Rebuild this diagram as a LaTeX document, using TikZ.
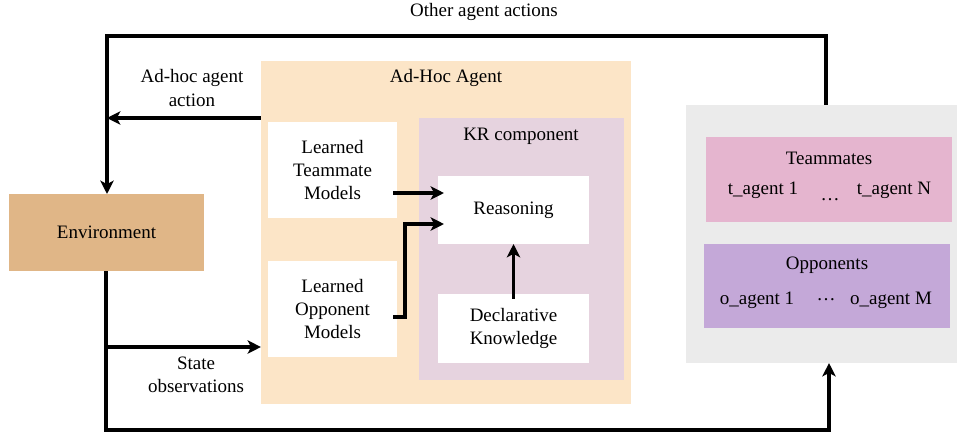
\documentclass[tikz,border=0pt]{standalone}
\usepackage{fontspec}
\setmainfont{Liberation Serif}
\usetikzlibrary{arrows.meta}

\definecolor{envcol}{HTML}{E0B687}
\definecolor{agentcol}{HTML}{FCE5C7}
\definecolor{krcol}{HTML}{E6D3DF}
\definecolor{greycol}{HTML}{EBEBEB}
\definecolor{teamcol}{HTML}{E5B5CF}
\definecolor{oppcol}{HTML}{C4A8D8}

\tikzset{
  every node/.style={font=\fontsize{13.5}{16.7}\selectfont, inner sep=0pt, outer sep=0pt},
  panel/.style={rectangle, fill=#1, align=center},
  box/.style={rectangle, fill=white, align=center, minimum width=#1},
  arr/.style={-{Stealth[length=9.5pt,width=9.5pt,inset=2.5pt]}, line width=2.2pt},
}

\begin{document}
\begin{tikzpicture}[x=0.025cm, y=-0.025cm]
		\useasboundingbox (0,0) rectangle (958,434);
		% containers
		\node[panel=agentcol, minimum width=9.25cm, minimum height=8.575cm] (agent) at (446,232.5) {};
		\node (agenttitle) at (446,78) {Ad-Hoc Agent};
		\node[panel=krcol, minimum width=5.125cm, minimum height=6.55cm] (kr) at (521.5,249) {};
		\node (krtitle) at (521,136) {KR component};
		\node[panel=greycol, minimum width=6.775cm, minimum height=6.45cm] (grey) at (821.5,234) {};
		\node[panel=teamcol, minimum width=6.15cm, minimum height=2.125cm] (team) at (829,179.5) {};
		\node (teamtitle) at (829,158) {Teammates};
		\node[panel=oppcol, minimum width=6.15cm, minimum height=2.1cm] (opp) at (827,286) {};
		\node (opptitle) at (827,265) {Opponents};
		% agents
		\node (tfirst) at (763,190) {t\_agent 1};
		\node (tdots) at (830,200) {\dots};
		\node (tlast) at (894,190) {t\_agent N};
		\node (ofirst) at (757,300) {o\_agent 1};
		\node (odots) at (826,300) {\dots};
		\node (olast) at (891,300) {o\_agent M};
		% boxes
		\node[panel=envcol, minimum width=4.875cm, minimum height=1.925cm] (env) at (106.5,232.5) {Environment};
		\node[box=3.225cm, minimum height=2.4cm] (tmm) at (332.5,170) {Learned\\Teammate\\Models};
		\node[box=3.225cm, minimum height=2.4cm] (opm) at (332.5,309) {Learned\\Opponent\\Models};
		\node[box=3.775cm, minimum height=1.7cm] (reason) at (513.5,210) {Reasoning};
		\node[box=3.775cm, minimum height=1.725cm] (decl) at (513.5,328.5) {Declarative\\Knowledge};
		% labels
		\node (otherlbl) at (484,12) {Other agent actions};
		\node[align=center] (actlbl) at (192,88) {Ad-hoc agent\\action};
		\node[align=center] (obslbl) at (196,375) {State\\observations};
		% connectors
		\coordinate (tl) at (107,36);
		\coordinate (tr) at (826,36);
		\coordinate (act) at (107,118);
		\coordinate (obs) at (106,347);
		\coordinate (br) at (829,430);
		\coordinate (tmy) at (0,193);
		\coordinate (opy) at (0,317);
		\coordinate (bend) at (405,224);
		\draw[arr] (grey.north -| tr) |- (tl) -- (env.north -| tl);
		\draw[arr] (agent.west |- act) -- (act);
		\draw[arr] (env.south -| obs) |- (br) -- (grey.south -| br);
		\draw[arr] (obs) -- (agent.west |- obs);
		\draw[arr] ([xshift=-0.1cm]tmm.east |- tmy) -- ([xshift=0.15cm]reason.west |- tmy);
		\draw[arr] ([xshift=-0.1cm]opm.east |- opy) -| (bend) -- ([xshift=0.15cm]reason.west |- bend);
		\draw[arr] ([yshift=-0.12cm]decl.north) -- (reason.south);
	\end{tikzpicture}
\end{document}
